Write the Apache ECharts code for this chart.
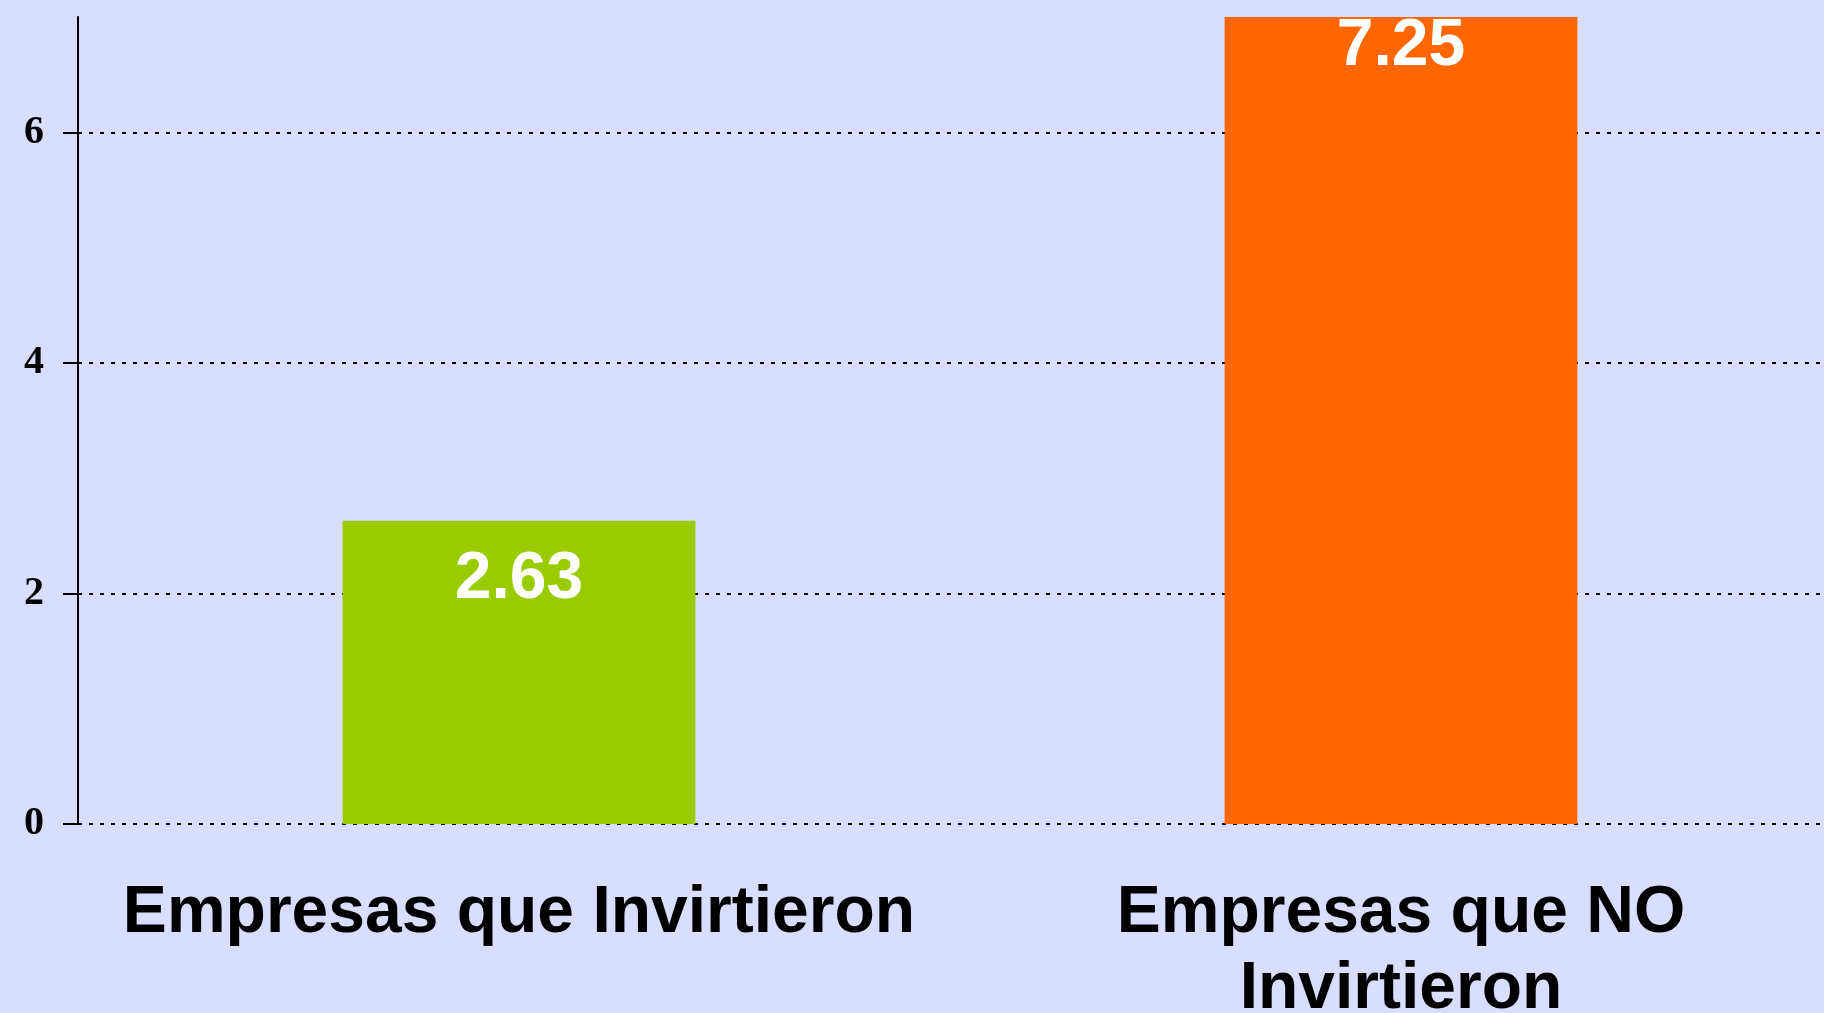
<!DOCTYPE html>
<html>
<head>
<meta charset="utf-8">
<title>Empresas</title>
<script src="https://cdn.jsdelivr.net/npm/echarts@6/dist/echarts.min.js"></script>
<style>
  html, body {
    margin: 0;
    padding: 0;
    background: #d9ddff;
  }
  #chart-main {
    width: 1824px;
    height: 1013px;
  }
</style>
</head>
<body>
<!-- 设置容器 -->
<div id="chart-main"></div>
<script>
// 数据
const categories = ['Empresas que Invirtieron', 'Empresas que NO\nInvirtieron']
const values = [2.63, 7.25]
const barColors = ['#99cc00', '#ff6600']
const yTicks = [0, 2, 4, 6]

const chart = echarts.init(document.getElementById('chart-main'))

const option = {
  animation: false,
  backgroundColor: '#d9ddff',
  grid: {
    left: 78,
    right: -18, // 网格线一直延伸到右边
    top: 17,
    bottom: 189,
    outerBoundsMode: 'none'
  },
  xAxis: {
    type: 'category',
    data: categories,
    axisLine: { show: false },
    axisTick: { show: false },
    axisLabel: {
      interval: 0, // 两个标签都显示
      margin: 52,
      color: '#000',
      fontFamily: 'Liberation Sans, Arial, sans-serif',
      fontWeight: 'bold',
      fontSize: 66,
      lineHeight: 76
    }
  },
  yAxis: {
    type: 'value',
    min: 0,
    max: 7,
    interval: 2,
    axisLine: {
      show: true,
      lineStyle: { color: '#000', width: 2 }
    },
    axisTick: {
      show: true,
      length: 15,
      customValues: yTicks, // 顶部不要刻度
      lineStyle: { color: '#000', width: 2 }
    },
    axisLabel: {
      margin: 34,
      color: '#000',
      fontFamily: 'Liberation Serif, Times New Roman, serif',
      fontWeight: 'bold',
      fontSize: 40,
      customValues: yTicks
    },
    splitLine: {
      show: true,
      lineStyle: {
        color: '#000',
        width: 2,
        type: [4, 7]
      }
    }
  },
  series: [
    {
      type: 'bar',
      barWidth: '40%',
      data: values.map((v, i) => ({
        value: v,
        itemStyle: { color: barColors[i] }
      }))
    },
    {
      // 数值标签 (不裁剪，超出坐标轴的柱子标签也按真实数值放置)
      type: 'scatter',
      clip: false,
      symbolSize: 0,
      silent: true,
      data: values,
      itemStyle: { opacity: 1 },
      label: {
        show: true,
        position: 'bottom',
        distance: 26,
        color: '#ffffff',
        opacity: 1,
        fontFamily: 'Liberation Sans, Arial, sans-serif',
        fontWeight: 'bold',
        fontSize: 66,
        lineHeight: 66,
        formatter: function(params) {
          return params.value.toFixed(2)
        }
      }
    }
  ]
}

chart.setOption(option)
</script>
</body>
</html>
